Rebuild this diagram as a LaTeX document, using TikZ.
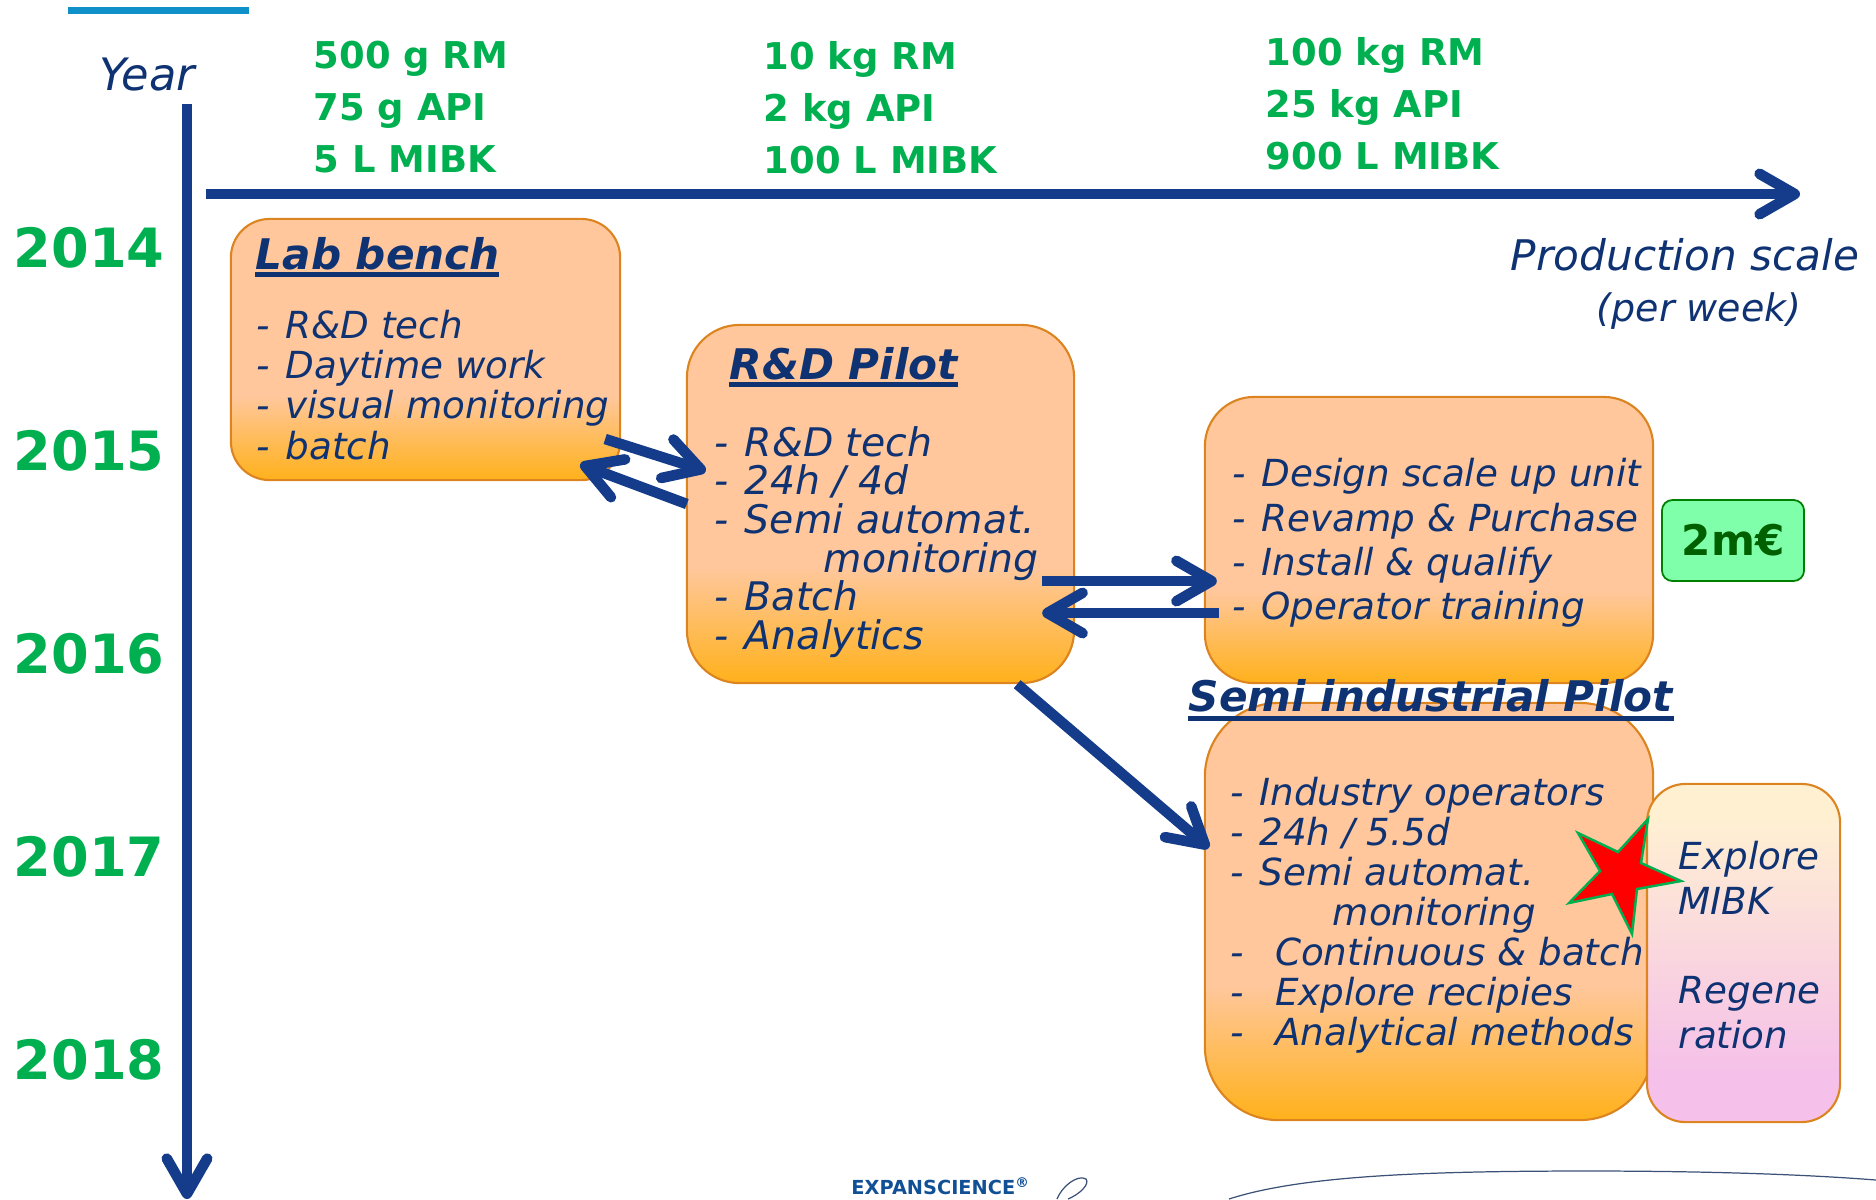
\documentclass[tikz,border=0pt]{standalone}
\usepackage{fontspec}
\usepackage{xcolor}
\usepackage{tikz}
\usetikzlibrary{arrows.meta}
\setmainfont{DejaVu Sans}
\definecolor{navy}{HTML}{0F3272}
\definecolor{flowblue}{HTML}{143C8A}
\definecolor{qtygreen}{HTML}{00B050}
\definecolor{boxedge}{HTML}{DB8420}
\definecolor{boxtop}{HTML}{FFC79B}
\definecolor{boxbottom}{HTML}{FFB11B}
\definecolor{creamtop}{HTML}{FFF0D2}
\definecolor{pinkbottom}{HTML}{F5C0E9}
\definecolor{moneyfill}{HTML}{80FFAA}
\definecolor{moneytext}{HTML}{006000}
\pgfdeclareverticalshading{orangefade}{100bp}{color(0bp)=(boxbottom); color(25bp)=(boxbottom); color(41bp)=(boxtop); color(100bp)=(boxtop)}
\pgfdeclareverticalshading{pinkfade}{100bp}{color(0bp)=(pinkbottom); color(32bp)=(pinkbottom); color(70bp)=(creamtop); color(100bp)=(creamtop)}
\newcommand{\hy}{-\hspace{1pt}\ }
\tikzset{
    treenode/.style = {align=left, inner sep=0pt},
    orange_node/.style = {treenode, rectangle, draw=boxedge, line width=0.6pt, shade, shading=orangefade},
    pink_node/.style = {orange_node, shading=pinkfade},
    money_node/.style = {treenode, align=center, rectangle, rounded corners=3pt, draw=moneytext!80!green, line width=0.5pt, fill=moneyfill, text=moneytext, font=\bfseries\fontsize{12}{14}\selectfont},
    list_text/.style = {treenode, anchor=west, text=navy, font=\itshape\fontsize{10.6}{11.4}\selectfont},
    title_text/.style = {treenode, anchor=west, text=navy, font=\bfseries\itshape\fontsize{12}{14}\selectfont},
    title_rule/.style = {navy, line width=1.4pt},
    axis_text/.style = {treenode, align=center, text=navy, font=\itshape\fontsize{12}{14}\selectfont},
    qty_text/.style = {treenode, anchor=west, text=qtygreen, font=\bfseries\fontsize{10.5}{14.8}\selectfont},
    year_text/.style = {treenode, text=qtygreen, font=\bfseries\fontsize{15.4}{18}\selectfont},
    axis_arrow/.style = {flowblue, line width=3pt, -{Straight Barb[round, length=10pt, width=11.5pt]}},
    flow_arrow/.style = {flowblue, line width=3pt, -{Straight Barb[round, length=10pt, width=11.5pt]}},
    sketch_line/.style = {draw=navy!60!gray, line width=0.35pt}
}
\begin{document}
\begin{tikzpicture}[x=0.01cm, y=-0.01cm]
    \useasboundingbox (0,0) rectangle (1876,1199);
    % top bar
    \fill[color={rgb,255:red,16;green,144;blue,200}] (68,7) rectangle (249,14);
    % axes
    \coordinate (year_start) at (187,104);
    \coordinate (year_end) at (187,1199);
    \coordinate (scale_start) at (206,194);
    \coordinate (scale_end) at (1800,194);
    \draw[axis_arrow] (year_start) -- (year_end);
    \draw[axis_arrow] (scale_start) -- (scale_end);
    \node [axis_text, font=\itshape\fontsize{12.7}{14}\selectfont] (year) at (147,75) {Year};
    \node [axis_text] (scale) at (1685,255) {Production scale};
    \node [axis_text, font=\itshape\fontsize{10.8}{13}\selectfont] (week) at (1699,311) {(per week)};
    \node [year_text] (y2014) at (89,248) {2014};
    \node [year_text] (y2015) at (89,451) {2015};
    \node [year_text] (y2016) at (89,654) {2016};
    \node [year_text] (y2017) at (89,857) {2017};
    \node [year_text] (y2018) at (89,1060) {2018};
    \node [qty_text] (qty_a) at (313,107) {500 g RM\\75 g API\\5 L MIBK};
    \node [qty_text] (qty_b) at (763,108) {10 kg RM\\2 kg API\\100 L MIBK};
    \node [qty_text] (qty_c) at (1265,104) {100 kg RM\\25 kg API\\900 L MIBK};
    % boxes
    \node [orange_node, rounded corners=11pt, minimum width=3.89cm, minimum height=2.61cm] (lab) at (425.5,349.5) {};
    \node [orange_node, rounded corners=15pt, minimum width=3.87cm, minimum height=3.58cm] (rnd) at (880.5,504) {};
    \node [orange_node, rounded corners=14pt, minimum width=4.48cm, minimum height=2.86cm] (design) at (1429,540) {};
    \node [orange_node, rounded corners=21pt, minimum width=4.48cm, minimum height=4.17cm] (semi) at (1429,911.5) {};
    \node [pink_node, rounded corners=11pt, minimum width=1.93cm, minimum height=3.38cm] (regen) at (1743.5,953) {};
    \node [money_node, minimum width=1.42cm, minimum height=0.81cm] (budget) at (1733,540.5) {2m€};
    % box texts
    \node [title_text] (lab_title) at (255,254) {Lab bench};
    \draw[title_rule] ([shift={(0,3)}]lab_title.south west) -- ([shift={(-2,3)}]lab_title.south east);
    \node [list_text] (lab_list) at (256,385) {\hy R\&D tech\\\hy Daytime work\\\hy visual monitoring\\\hy batch};
    \node [title_text] (rnd_title) at (729,364) {R\&D Pilot};
    \draw[title_rule] ([shift={(0,3)}]rnd_title.south west) -- ([shift={(0,3)}]rnd_title.south east);
    \node [list_text, font=\itshape\fontsize{11.2}{11}\selectfont] (rnd_list) at (714,542) {\hy R\&D tech\\\hy 24h / 4d\\\hy Semi automat.\\\hspace*{31pt}monitoring\\\hy Batch\\\hy Analytics};
    \node [list_text, font=\itshape\fontsize{10.6}{12.6}\selectfont] (design_list) at (1232,543) {\hy Design scale up unit\\\hy Revamp \& Purchase\\\hy Install \& qualify\\\hy Operator training};
    \node [title_text] (semi_title) at (1188,696) {Semi industrial Pilot};
    \draw[title_rule] ([shift={(0,5)}]semi_title.south west) -- ([shift={(0,5)}]semi_title.south east);
    \node [list_text] (semi_list) at (1230,915) {\hy Industry operators\\\hy 24h / 5.5d\\\hy Semi automat.\\\hspace*{29pt}monitoring\\-\hspace{8.8pt}Continuous \& batch\\-\hspace{8.8pt}Explore recipies\\-\hspace{8.8pt}Analytical methods};
    % star
    \draw[draw=qtygreen, fill=red, line width=0.7pt, line join=miter] (1648,819) -- (1641,863) -- (1681,881) -- (1637,889) -- (1632,934) -- (1612,894) -- (1569,903) -- (1600,871) -- (1578,833) -- (1618,852) -- cycle;
    \node [list_text, font=\itshape\fontsize{10.6}{12.7}\selectfont] (regen_list) at (1678,945) {Explore\\MIBK\\[12.7pt]Regene\\ration};
    % connectors
    \draw[flow_arrow] ([shift={(-16,89.5)}]lab.east) -- ([shift={(20,-33)}]rnd.west);
    \draw[flow_arrow] ([shift={(1,0)}]rnd.west) -- ([shift={(-41,-17)}]lab.south east);
    \draw[flow_arrow] ([shift={(-33,77)}]rnd.east) -- ([shift={(13,41)}]design.west);
    \draw[flow_arrow] ([shift={(15,73)}]design.west) -- ([shift={(-33,109)}]rnd.east);
    \draw[flow_arrow] ([shift={(-58,0)}]rnd.south east) -- ([shift={(5,-63.5)}]semi.west);
    % footer
    \node [treenode, text=flowblue!90!cyan, font=\bfseries\fontsize{5.5}{7}\selectfont] (expan) at (941,1186) {EXPANSCIENCE\textsuperscript{®}};
    \draw[sketch_line] (1057,1199) .. controls (1062,1186) and (1078,1174) .. (1086,1179) .. controls (1090,1184) and (1080,1194) .. (1068,1199);
    \draw[sketch_line] (1229,1199) .. controls (1300,1176) and (1420,1171) .. (1588,1171) .. controls (1700,1171) and (1800,1174) .. (1876,1180);
\end{tikzpicture}
\end{document}
